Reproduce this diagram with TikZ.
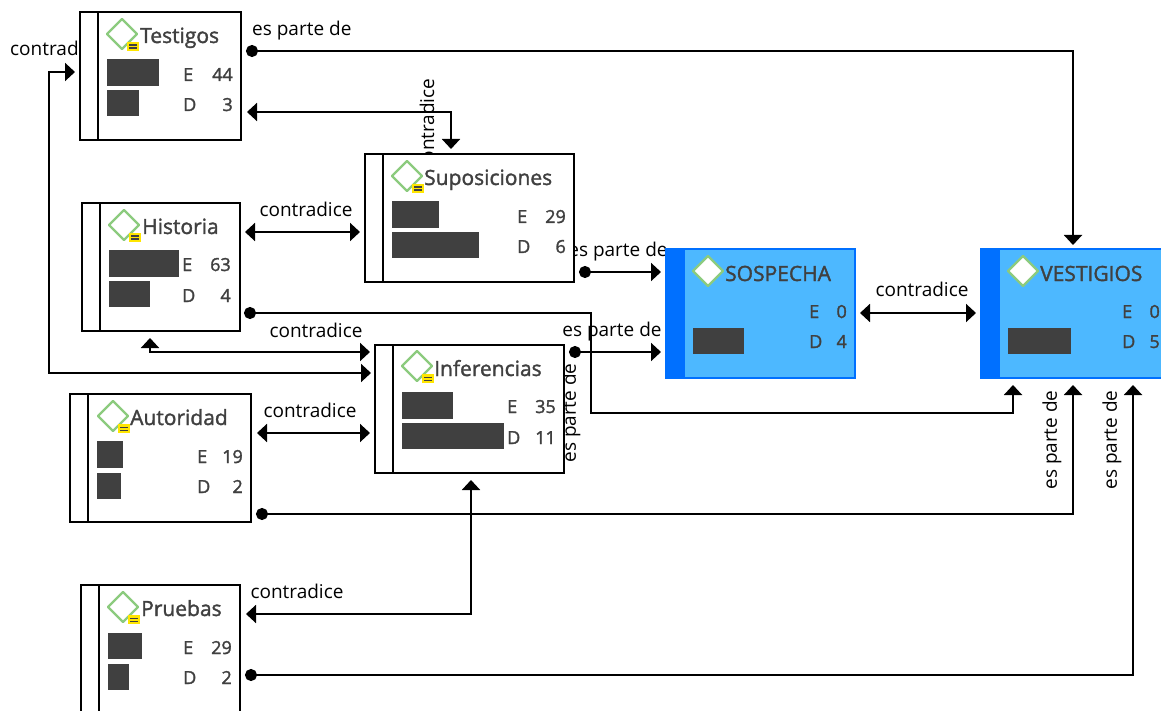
\documentclass[tikz,border=0pt]{standalone}
\usepackage{fontspec}
\setmainfont{Open Sans}
\newfontfamily\medfont[FakeBold=1.6]{Open Sans}
\usetikzlibrary{arrows.meta,calc}
\definecolor{ink}{HTML}{404040}
\definecolor{blueFill}{HTML}{4DB8FF}
\definecolor{blueEdge}{HTML}{0070FF}
\definecolor{greenIcon}{HTML}{8CCB7E}
\definecolor{badge}{HTML}{FFE600}
\pgfdeclarelayer{back}
\pgfsetlayers{back,main}
\tikzset{
  plainbox/.style={draw=black,fill=white,line width=2pt,rectangle,inner sep=0pt,outer sep=0pt,anchor=north west},
  keybox/.style={draw=blueEdge,fill=blueFill,line width=2pt,rectangle,inner sep=0pt,outer sep=0pt,anchor=north west},
  title/.style={font=\medfont\fontsize{21}{22}\selectfont,text=ink,anchor=base west,inner sep=0pt},
  val/.style={font=\medfont\fontsize{18}{20}\selectfont,text=ink,anchor=base east,inner sep=0pt},
  letter/.style={font=\medfont\fontsize{18}{20}\selectfont,text=ink,anchor=base west,inner sep=0pt},
  lab/.style={font=\fontsize{19}{20}\selectfont,text=black,inner sep=0pt},
  bar/.style={fill=ink,draw=none},
  conn/.style={line width=2pt,draw=black,line join=miter},
  both/.style={conn,{Triangle[length=10pt,width=18pt]}-{Triangle[length=10pt,width=18pt]}},
  dotarrow/.style={conn,{Circle[length=12pt,width=12pt]}-{Triangle[length=10pt,width=18pt]}}
}
% name, x0, y0, x1, y1, divider x
\newcommand{\plainkb}[6]{%
  \node[plainbox,minimum width=#4pt-#2pt,minimum height=#5pt-#3pt] (#1) at (#2,#3) {};
  \draw[line width=2pt] (#6,#3) -- (#6,#5);}
\newcommand{\bluekb}[6]{%
  \node[keybox,minimum width=#4pt-#2pt,minimum height=#5pt-#3pt] (#1) at (#2,#3) {};
  \fill[blueEdge] (#2,#3) rectangle (#6,#5);}
\newcommand{\icon}[2]{%
  \draw[greenIcon,line width=2.2pt,fill=white,line join=round] (#1-15,#2) -- (#1,#2-15) -- (#1+15,#2) -- (#1,#2+15) -- cycle;}
\newcommand{\badge}[2]{%
  \fill[badge] (#1+5,#2+8) rectangle (#1+17,#2+17);
  \fill[ink] (#1+7,#2+10.5) rectangle (#1+15,#2+12);
  \fill[ink] (#1+7,#2+13.5) rectangle (#1+15,#2+15);}
% name, letterEx, letterDx, rightx, yE, yD, E val, D val
\newcommand{\vals}[8]{%
  \node[letter] (#1-E) at (#2,#5) {E};
  \node[letter] (#1-D) at (#3,#6) {D};
  \node[val] (#1-Ev) at (#4,#5) {#7};
  \node[val] (#1-Dv) at (#4,#6) {#8};}
\begin{document}
\begin{tikzpicture}[x=1pt,y=-1pt]
\useasboundingbox (0,0) rectangle (1161,711);
% boxes
\plainkb{testigos}{80}{12}{241}{140}{98}
\plainkb{suposiciones}{365}{154}{574}{282}{383}
\plainkb{historia}{82}{203}{240}{331}{100}
\plainkb{inferencias}{375}{345}{564}{473}{393}
\plainkb{autoridad}{70}{394}{251}{522}{88}
\plainkb{pruebas}{81}{585}{240}{730}{99}
\bluekb{sospecha}{666}{249}{855}{378}{685}
\bluekb{vestigios}{981}{249}{1180}{378}{1000}
% icons
\icon{122}{34}\badge{122}{34}
\icon{407}{176}\badge{407}{176}
\icon{124}{225}\badge{124}{225}
\icon{417}{366}\badge{417}{366}
\icon{113}{416}\badge{113}{416}
\icon{123}{607}\badge{123}{607}
\icon{708}{271}
\icon{1023}{271}
% titles
\node[title] (testigos-t) at (140,43) {Testigos};
\node[title] (suposiciones-t) at (424,185) {Suposiciones};
\node[title] (historia-t) at (142,234) {Historia};
\node[title] (inferencias-t) at (434,376) {Inferencias};
\node[title] (autoridad-t) at (130,425) {Autoridad};
\node[title] (pruebas-t) at (141,616) {Pruebas};
\node[title] (sospecha-t) at (725,281) {SOSPECHA};
\node[title] (vestigios-t) at (1040,281) {VESTIGIOS};
% bars
\fill[bar] (107,59) rectangle (159,86); \fill[bar] (107,90) rectangle (139,116);
\fill[bar] (392,201) rectangle (439,228); \fill[bar] (392,232) rectangle (479,258);
\fill[bar] (109,250) rectangle (179,277); \fill[bar] (109,281) rectangle (150,307);
\fill[bar] (402,392) rectangle (453,419); \fill[bar] (402,423) rectangle (504,449);
\fill[bar] (97,441) rectangle (123,468); \fill[bar] (97,473) rectangle (121,499);
\fill[bar] (108,633) rectangle (142,659); \fill[bar] (108,664) rectangle (129,690);
\fill[bar] (693,328) rectangle (744,354);
\fill[bar] (1008,328) rectangle (1071,354);
% values
\vals{testigos}{183}{183}{233}{81}{111}{44}{3}
\vals{suposiciones}{517}{517}{566}{223}{253}{29}{6}
\vals{historia}{182}{182}{231}{271}{302}{63}{4}
\vals{inferencias}{507}{507}{556}{413}{444}{35}{11}
\vals{autoridad}{197}{197}{243}{463}{493}{19}{2}
\vals{pruebas}{183}{183}{232}{654}{684}{29}{2}
\vals{sospecha}{809}{809}{847}{318}{348}{0}{4}
\vals{vestigios}{1122}{1122}{1160}{318}{348}{0}{5}
\begin{pgfonlayer}{back}
% labels
\node[lab,anchor=base west] (l-testigos-v) at (252,36) {es parte de};
\node[lab,anchor=base west] (l-testigos-i) at (10,56) {contradice};
\node[lab,rotate=90] (l-testigos-s) at (427,125) {contradice};
\node[lab] (l-hist-sup) at (306,209) {contradice};
\node[lab] (l-hist-inf) at (316,330) {contradice};
\node[lab] (l-sup-sos) at (618,252) {es parte de};
\node[lab] (l-inf-sos) at (612,332) {es parte de};
\node[lab,rotate=90] (l-hist-ves) at (571,413) {es parte de};
\node[lab] (l-aut-inf) at (310,410) {contradice};
\node[lab] (l-pru-inf) at (297,591) {contradice};
\node[lab] (l-sos-ves) at (922,289) {contradice};
\node[lab,rotate=90] (l-aut-ves) at (1052,440) {es parte de};
\node[lab,rotate=90] (l-pru-ves) at (1112,440) {es parte de};
% connectors
\draw[dotarrow] ([shift={(5,39)}]testigos.north east) -| ([shift={(92,-4)}]vestigios.north west);
\draw[both] ([shift={(-5,60)}]testigos.north west) -- ++(-26,0) |- ([shift={(-4,28)}]inferencias.north west);
\draw[both] ([shift={(6,100)}]testigos.north east) -| ([shift={(86,-5)}]suposiciones.north west);
\draw[both] ([shift={(5,29)}]historia.north east) -- ([shift={(-5,78)}]suposiciones.north west);
\draw[dotarrow] ([shift={(4,110)}]historia.north east) -- ++(347,0) -- ++(0,100) -| ([shift={(32,136)}]vestigios.north west);
\draw[both] ([shift={(68,7)}]historia.south west) |- ([shift={(-5,7)}]inferencias.north west);
\draw[dotarrow] ([shift={(5,118)}]suposiciones.north east) -- ([shift={(-5,23)}]sospecha.north west);
\draw[dotarrow] ([shift={(5,7)}]inferencias.north east) -- ([shift={(-5,103)}]sospecha.north west);
\draw[both] ([shift={(6,39)}]autoridad.north east) -- ([shift={(-5,88)}]inferencias.north west);
\draw[dotarrow] ([shift={(5,-8)}]autoridad.south east) -| ([shift={(92,136)}]vestigios.north west);
\draw[both] ([shift={(6,29)}]pruebas.north east) -| ([shift={(96,7)}]inferencias.south west);
\draw[dotarrow] ([shift={(5,90)}]pruebas.north east) -| ([shift={(152,136)}]vestigios.north west);
\draw[both] ([shift={(5,64)}]sospecha.north east) -- ([shift={(-5,64)}]vestigios.north west);
\end{pgfonlayer}
\end{tikzpicture}
\end{document}
